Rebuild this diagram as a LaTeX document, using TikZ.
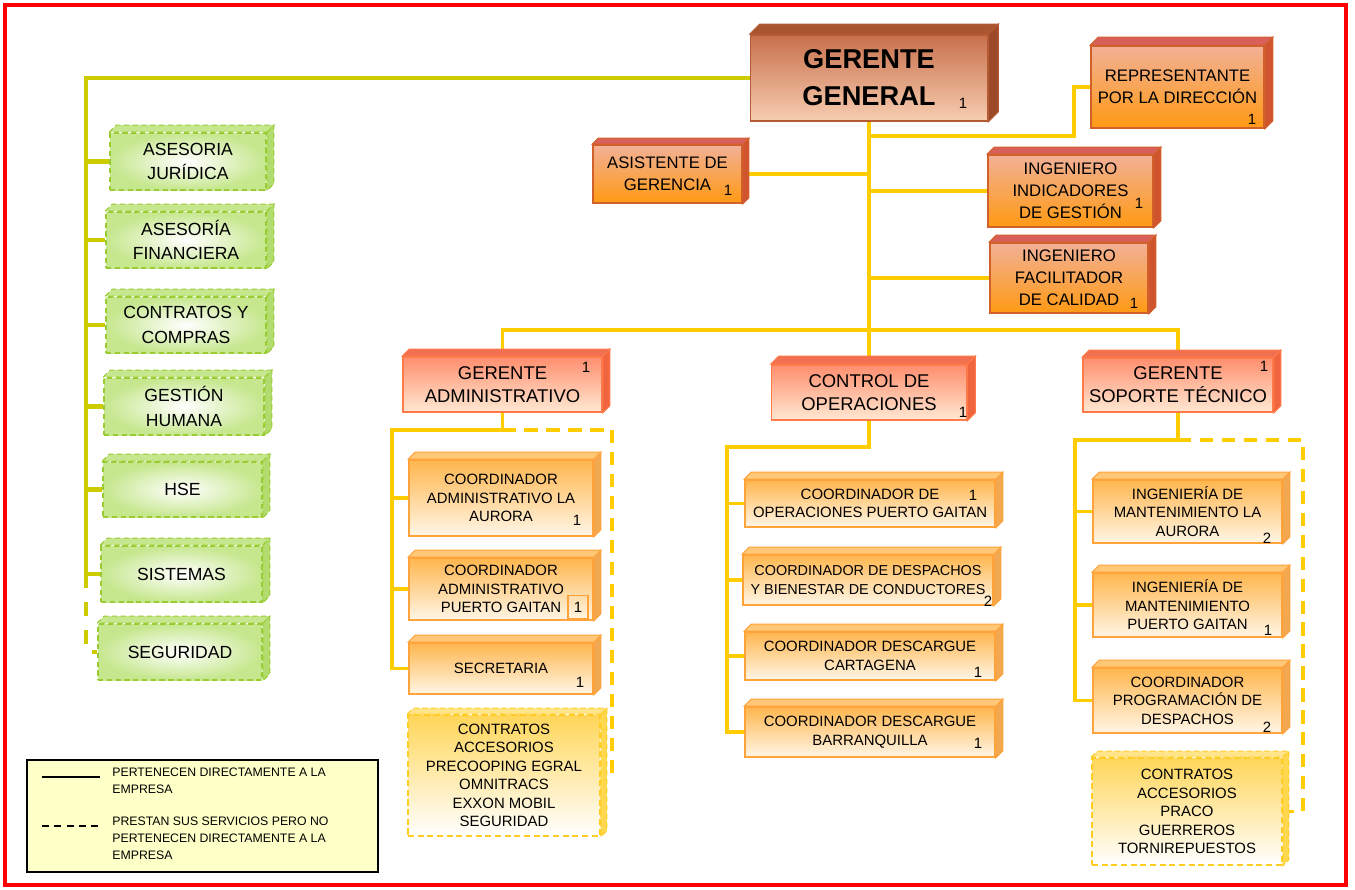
\documentclass[tikz,border=0pt]{standalone}
\usepackage{fontspec}
\setmainfont{Liberation Sans}
\usetikzlibrary{backgrounds}

\definecolor{linegold}{HTML}{FFCC00}
\definecolor{lineolive}{HTML}{CCCC00}
\definecolor{ggtop}{HTML}{C8704C}
\definecolor{ggbot}{HTML}{F7CDB0}
\definecolor{ggline}{HTML}{B45A35}
\definecolor{ggface}{HTML}{A9552F}
\definecolor{ggside}{HTML}{9C4A28}
\definecolor{ortop}{HTML}{F2B096}
\definecolor{orbot}{HTML}{FF9A14}
\definecolor{orline}{HTML}{D2602A}
\definecolor{orface}{HTML}{D9605A}
\definecolor{orside}{HTML}{D0542E}
\definecolor{mgtop}{HTML}{FF8E6E}
\definecolor{mgbot}{HTML}{FFE8D2}
\definecolor{mgline}{HTML}{FF7A4A}
\definecolor{mgface}{HTML}{F07050}
\definecolor{mgside}{HTML}{F0643E}
\definecolor{subtop}{HTML}{FFB64E}
\definecolor{subbot}{HTML}{FFF6E6}
\definecolor{subline}{HTML}{FFA33A}
\definecolor{subface}{HTML}{FFC878}
\definecolor{subside}{HTML}{F2A850}
\definecolor{grfill}{HTML}{C6E78E}
\definecolor{grline}{HTML}{99CC33}
\definecolor{grface}{HTML}{C6E78E}
\definecolor{grside}{HTML}{B2DC6E}
\definecolor{cttop}{HTML}{FFD65A}
\definecolor{ctline}{HTML}{FFCC22}
\definecolor{ctface}{HTML}{FFE48A}
\definecolor{ctside}{HTML}{FFD850}
\definecolor{legfill}{HTML}{FFFFC8}

% top and right faces of a block
\newcommand{\blockfaces}[4]{%
  \path[#3] (#1.north west) -- ([shift={(#2,-#2)}]#1.north west) -- ([shift={(#2,-#2)}]#1.north east) -- (#1.north east) -- cycle;
  \path[#4] (#1.north east) -- ([shift={(#2,-#2)}]#1.north east) -- ([shift={(#2,-#2)}]#1.south east) -- (#1.south east) -- cycle;
}

\tikzset{
  sz/.style 2 args={minimum width=#1*0.02cm, minimum height=#2*0.02cm},
  base/.style={rectangle, inner sep=1pt, align=center, line width=0.9pt},
  ggbox/.style={base, draw=ggline, top color=ggtop, bottom color=ggbot, font=\bfseries\fontsize{15.5}{21}\selectfont},
  orbox/.style={base, draw=orline, top color=ortop, bottom color=orbot, font=\fontsize{9.5}{12.5}\selectfont},
  mgbox/.style={base, draw=mgline, top color=mgtop, bottom color=mgbot, font=\fontsize{10.5}{13}\selectfont},
  subbox/.style={base, draw=subline, top color=subtop, bottom color=subbot, font=\fontsize{8.5}{10.5}\selectfont},
  grbox/.style={base, draw=grline, dash pattern=on 3pt off 2pt, inner color=white, outer color=grfill, font=\fontsize{10}{14}\selectfont},
  ctbox/.style={base, draw=ctline, dash pattern=on 3.5pt off 2pt, top color=cttop, bottom color=white, font=\fontsize{8.5}{10.5}\selectfont},
  ggtf/.style={fill=ggface, draw=ggline, line width=0.6pt},
  ggsf/.style={fill=ggside, draw=ggline, line width=0.6pt},
  ortf/.style={fill=orface, draw=orline, line width=0.6pt},
  orsf/.style={fill=orside, draw=orline, line width=0.6pt},
  mgtf/.style={fill=mgface, draw=mgline, line width=0.6pt},
  mgsf/.style={fill=mgside, draw=mgline, line width=0.6pt},
  sbtf/.style={fill=subface, draw=subline, line width=0.6pt},
  sbsf/.style={fill=subside, draw=subline, line width=0.6pt},
  grtf/.style={fill=grface, draw=grline, line width=0.6pt, dash pattern=on 3pt off 2pt},
  grsf/.style={fill=grside, draw=grline, line width=0.6pt, dash pattern=on 3pt off 2pt},
  cttf/.style={fill=ctface, draw=ctline, line width=0.6pt, dash pattern=on 3pt off 2pt},
  ctsf/.style={fill=ctside, draw=ctline, line width=0.6pt, dash pattern=on 3pt off 2pt},
  cnt/.style={font=\fontsize{8.5}{9}\selectfont, inner sep=0pt},
  yline/.style={draw=linegold, line width=2.2pt},
  oline/.style={draw=lineolive, line width=2.6pt},
  gdash/.style={dash pattern=on 7.5pt off 5pt},
  legtext/.style={font=\fontsize{7}{9.6}\selectfont, align=left, inner sep=0pt}
}

\begin{document}
\begin{tikzpicture}[x=0.02cm, y=-0.02cm]
\useasboundingbox (0,0) rectangle (1355,889);

% direccion
\node[ggbox, sz={237}{86}] (gg) at (869,78) {GERENTE\\GENERAL};
\node[orbox, sz={149}{58}] (asis) at (667.5,174) {ASISTENTE DE\\GERENCIA};
\node[orbox, sz={173}{82}] (rep) at (1177.5,87) {REPRESENTANTE\\POR LA DIRECCIÓN};
\node[orbox, sz={165}{72}] (ingind) at (1070.5,191) {INGENIERO\\INDICADORES\\DE GESTIÓN};
\node[orbox, sz={158}{70}] (ingfac) at (1069,278) {INGENIERO\\FACILITADOR\\DE CALIDAD};

% gerencias
\node[mgbox, sz={199}{55}] (ga) at (502.5,384.5) {GERENTE\\ADMINISTRATIVO};
\node[mgbox, sz={195}{55}] (ctrl) at (869,392.5) {CONTROL DE\\OPERACIONES};
\node[mgbox, sz={190}{54}] (gst) at (1178,385) {GERENTE\\SOPORTE TÉCNICO};

% administrativo
\node[subbox, sz={184}{76}] (caa) at (501,498) {COORDINADOR\\ADMINISTRATIVO LA\\AURORA};
\node[subbox, sz={184}{62}] (cap) at (501,589) {COORDINADOR\\ADMINISTRATIVO\\PUERTO GAITAN};
\node[subbox, sz={184}{51}] (sec) at (501,668.5) {SECRETARIA};
\node[ctbox, sz={192}{121}] (cta) at (504,775.5) {CONTRATOS\\ACCESORIOS\\PRECOOPING EGRAL\\OMNITRACS\\EXXON MOBIL\\SEGURIDAD};

% operaciones
\node[subbox, sz={250}{47}] (cop) at (870,503.5) {COORDINADOR DE\\OPERACIONES PUERTO GAITAN};
\node[subbox, sz={250}{50}, font=\fontsize{8.2}{10.5}\selectfont] (cdb) at (868,580) {COORDINADOR DE DESPACHOS\\Y BIENESTAR DE CONDUCTORES};
\node[subbox, sz={250}{48}] (cdc) at (870,656) {COORDINADOR DESCARGUE\\CARTAGENA};
\node[subbox, sz={250}{50}] (cdq) at (870,732) {COORDINADOR DESCARGUE\\BARRANQUILLA};

% soporte tecnico
\node[subbox, sz={189}{63}] (ima) at (1187.5,511.5) {INGENIERÍA DE\\MANTENIMIENTO LA\\AURORA};
\node[subbox, sz={189}{64}] (imp) at (1187.5,605) {INGENIERÍA DE\\MANTENIMIENTO\\PUERTO GAITAN};
\node[subbox, sz={189}{65}] (cpd) at (1187.5,700.5) {COORDINADOR\\PROGRAMACIÓN DE\\DESPACHOS};
\node[ctbox, sz={190}{107}] (cts) at (1187,811.5) {CONTRATOS\\ACCESORIOS\\PRACO\\GUERREROS\\TORNIREPUESTOS};

% apoyo
\node[grbox, sz={156}{57}] (jur) at (188,161.5) {ASESORIA\\JURÍDICA};
\node[grbox, sz={160}{56}] (fin) at (186,240) {ASESORÍA\\FINANCIERA};
\node[grbox, sz={160}{56}] (com) at (186,325) {CONTRATOS Y\\COMPRAS};
\node[grbox, sz={160}{57}] (hum) at (184,406.5) {GESTIÓN\\HUMANA};
\node[grbox, sz={159}{55}] (hse) at (182.5,489.5) {HSE};
\node[grbox, sz={161}{56}] (sis) at (181.5,574) {SISTEMAS};
\node[grbox, sz={164}{56}] (seg) at (180,652) {SEGURIDAD};

\foreach \n/\d/\t/\s in {gg/10/ggtf/ggsf, asis/6/ortf/orsf, rep/8/ortf/orsf, ingind/7/ortf/orsf, ingfac/7/ortf/orsf,
    ga/7/mgtf/mgsf, ctrl/8/mgtf/mgsf, gst/7/mgtf/mgsf,
    caa/7/sbtf/sbsf, cap/7/sbtf/sbsf, sec/7/sbtf/sbsf, cop/7/sbtf/sbsf, cdb/7/sbtf/sbsf, cdc/7/sbtf/sbsf, cdq/7/sbtf/sbsf,
    ima/7/sbtf/sbsf, imp/7/sbtf/sbsf, cpd/7/sbtf/sbsf, cta/6/cttf/ctsf, cts/6/cttf/ctsf,
    jur/7/grtf/grsf, fin/7/grtf/grsf, com/7/grtf/grsf, hum/7/grtf/grsf, hse/7/grtf/grsf, sis/7/grtf/grsf, seg/7/grtf/grsf}
  {\blockfaces{\n}{\d}{\t}{\s}}

% cantidades
\node[cnt] (gg-n) at (963,103) {1};
\node[cnt] (asis-n) at (728,190) {1};
\node[cnt] (rep-n) at (1252,119) {1};
\node[cnt] (ingind-n) at (1139,203) {1};
\node[cnt] (ingfac-n) at (1134,303) {1};
\node[cnt] (ga-n) at (586,367) {1};
\node[cnt] (ctrl-n) at (963,412) {1};
\node[cnt] (gst-n) at (1264,366) {1};
\node[cnt] (caa-n) at (577,520) {1};
\node[cnt, draw=subline, line width=0.8pt, minimum width=0.4cm, minimum height=0.46cm] (cap-n) at (578,607) {1};
\node[cnt] (sec-n) at (580,682) {1};
\node[cnt] (cop-n) at (973,495) {1};
\node[cnt] (cdb-n) at (988,601) {2};
\node[cnt] (cdc-n) at (978,672) {1};
\node[cnt] (cdq-n) at (978,743) {1};
\node[cnt] (ima-n) at (1267,538) {2};
\node[cnt] (imp-n) at (1268,630) {1};
\node[cnt] (cpd-n) at (1267,727) {2};

% convenciones
\node[draw=black, fill=legfill, line width=0.8pt, sz={351}{112}] (leg) at (202.5,816) {};
\coordinate (l1a) at (42,777);
\coordinate (l1b) at (100,777);
\coordinate (l2a) at (42,826);
\coordinate (l2b) at (100,826);
\draw[line width=0.7pt] (l1a) -- (l1b);
\draw[line width=0.7pt, dash pattern=on 4pt off 3pt] (l2a) -- (l2b);
\node[legtext, anchor=north west] (leg1) at (112,768) {PERTENECEN DIRECTAMENTE A LA\\EMPRESA};
\node[legtext, anchor=north west] (leg2) at (112,817) {PRESTAN SUS SERVICIOS PERO NO\\PERTENECEN DIRECTAMENTE A LA\\EMPRESA};

\begin{pgfonlayer}{background}
\coordinate (mbus) at (869,330);
\coordinate (rbend) at (1074,136);
\coordinate (lbus) at (86,0);
\coordinate (gabus) at (392,430);
\coordinate (gadash) at (612,430);
\coordinate (cbus) at (727,447);
\coordinate (sbus) at (1075,440);
\coordinate (sdash) at (1303,440);
% linea general
\draw[yline] (gg.south) -- (mbus);
\draw[yline] (ga.north) |- (mbus) -| (gst.north);
\draw[yline] (ctrl.north) -- (mbus);
\draw[yline] (asis.east) -- (asis.east -| gg.south);
\draw[yline] (ingind.west) -- (ingind.west -| gg.south);
\draw[yline] (ingfac.west) -- (ingfac.west -| gg.south);
\draw[yline] (gg.south |- rbend) -- (rbend) |- (rep.west);
% apoyo
\draw[oline] (gg.west) -| (lbus |- sis.west) -- (sis.west);
\foreach \n in {jur,fin,com,hum,hse}
  \draw[oline] (lbus |- \n.west) -- (\n.west);
\draw[oline, dash pattern=on 8pt off 8pt] (lbus |- sis.west) |- (seg.west);
% administrativo
\draw[yline] (ga.south) |- (gabus) |- (sec.west);
\foreach \n in {caa,cap}
  \draw[yline] (gabus |- \n.west) -- (\n.west);
\draw[yline, gdash] (ga.south |- gadash) -- (gadash) |- (cta.east);
% operaciones
\draw[yline] (ctrl.south) |- (cbus) |- (cdq.west);
\foreach \n in {cop,cdb,cdc}
  \draw[yline] (cbus |- \n.west) -- (\n.west);
% soporte
\draw[yline] (gst.south) |- (sbus) |- (cpd.west);
\foreach \n in {ima,imp}
  \draw[yline] (sbus |- \n.west) -- (\n.west);
\draw[yline, gdash] (gst.south |- sdash) -- (sdash) |- (cts.east);
\end{pgfonlayer}

% marco
\draw[red, line width=1.8pt] (5,5) rectangle (1346,885);
\end{tikzpicture}
\end{document}
